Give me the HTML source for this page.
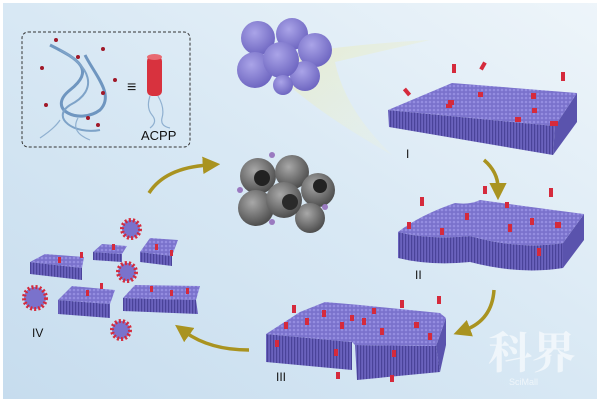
<!DOCTYPE html>
<html><head><meta charset="utf-8"><style>
html,body{margin:0;padding:0;width:600px;height:402px;overflow:hidden;background:#fff}
</style></head><body>
<svg width="600" height="402" viewBox="0 0 600 402" xmlns="http://www.w3.org/2000/svg">
<defs>
<linearGradient id="bg" x1="1" y1="0" x2="0" y2="1">
<stop offset="0" stop-color="#eef5fa"/><stop offset="0.5" stop-color="#d8e8f4"/><stop offset="1" stop-color="#c6dcee"/>
</linearGradient>
<pattern id="dots" width="4" height="4" patternUnits="userSpaceOnUse">
<rect width="4" height="4" fill="#7a72cc"/><circle cx="2" cy="2" r="1.3" fill="#948de0"/>
</pattern>
<pattern id="stripes" width="3" height="10" patternUnits="userSpaceOnUse">
<rect width="3" height="10" fill="#6a62bd"/><rect x="0" width="1.2" height="10" fill="#4a4399"/>
</pattern>
<linearGradient id="beam" x1="0" y1="0" x2="1" y2="1">
<stop offset="0" stop-color="#e6ebc8" stop-opacity="0.8"/><stop offset="1" stop-color="#eef3e0" stop-opacity="0.15"/>
</linearGradient>
<radialGradient id="ball" cx="0.4" cy="0.35" r="0.7">
<stop offset="0" stop-color="#aaa4e8"/><stop offset="1" stop-color="#6b63bf"/>
</radialGradient>
<radialGradient id="gball" cx="0.4" cy="0.35" r="0.7">
<stop offset="0" stop-color="#a8a8a8"/><stop offset="1" stop-color="#484848"/>
</radialGradient>
<marker id="ah" markerWidth="5" markerHeight="5" refX="1.5" refY="2.5" orient="auto" markerUnits="strokeWidth">
<path d="M0,0 L5,2.5 L0,5 Z" fill="#a99320"/>
</marker>
</defs>
<rect width="600" height="402" fill="url(#bg)"/>
<rect x="1.5" y="1.5" width="597" height="399" fill="none" stroke="#fff" stroke-width="3"/>

<!-- beam -->
<path d="M290,55 Q340,45 430,40 L335,62 Q345,110 392,155 Q330,120 292,88 Z" fill="url(#beam)"/>

<!-- inset -->
<rect x="22" y="32" width="168" height="115" rx="6" fill="none" stroke="#333" stroke-width="1" stroke-dasharray="3,2"/>
<path d="M50,45 C80,60 95,70 70,90 C45,110 80,125 100,110 C115,95 95,75 85,55" fill="none" stroke="#6f96c0" stroke-width="3"/>
<path d="M60,50 C90,65 100,90 70,105 C50,118 75,135 100,130" fill="none" stroke="#7ea3c8" stroke-width="2"/>
<path d="M40,138 Q55,128 60,120 M90,140 Q70,132 78,118" fill="none" stroke="#8fb0d0" stroke-width="1.2"/>
<g fill="#a01828">
<circle cx="56" cy="40" r="2"/><circle cx="103" cy="49" r="2"/><circle cx="78" cy="57" r="2"/><circle cx="42" cy="68" r="2"/>
<circle cx="115" cy="80" r="2"/><circle cx="103" cy="93" r="2"/><circle cx="46" cy="105" r="2"/><circle cx="98" cy="125" r="2"/><circle cx="88" cy="118" r="2"/>
</g>
<text x="127" y="92" font-family="Liberation Sans,sans-serif" font-size="16" font-weight="bold" fill="#222">≡</text>
<rect x="147" y="56" width="15" height="40" rx="5" fill="#d8323e"/>
<ellipse cx="154.5" cy="57" rx="7.5" ry="3" fill="#e86a72"/>
<path d="M150,96 Q146,108 152,115 Q158,122 150,128 M158,96 Q165,108 162,118 Q160,126 170,128" fill="none" stroke="#8fb0d0" stroke-width="1.2"/>
<text x="141" y="140" font-family="Liberation Sans,sans-serif" font-size="13" fill="#111">ACPP</text>

<!-- top purple cluster -->
<g>
<circle cx="258" cy="38" r="17" fill="url(#ball)"/>
<circle cx="292" cy="34" r="16" fill="url(#ball)"/>
<circle cx="315" cy="50" r="17" fill="url(#ball)"/>
<circle cx="255" cy="70" r="18" fill="url(#ball)"/>
<circle cx="305" cy="76" r="15" fill="url(#ball)"/>
<circle cx="281" cy="60" r="18" fill="url(#ball)"/>
<circle cx="283" cy="85" r="10" fill="url(#ball)"/>
</g>

<!-- grey cluster -->
<g>
<circle cx="258" cy="176" r="18" fill="url(#gball)"/>
<circle cx="292" cy="172" r="17" fill="url(#gball)"/>
<circle cx="318" cy="190" r="17" fill="url(#gball)"/>
<circle cx="256" cy="208" r="18" fill="url(#gball)"/>
<circle cx="310" cy="218" r="15" fill="url(#gball)"/>
<circle cx="284" cy="200" r="18" fill="url(#gball)"/>
<circle cx="262" cy="178" r="8" fill="#222"/><circle cx="290" cy="202" r="8" fill="#2a2a2a"/><circle cx="320" cy="186" r="7" fill="#222"/>
<circle cx="240" cy="190" r="3" fill="#9a7ac0"/><circle cx="272" cy="155" r="3" fill="#9a7ac0"/><circle cx="325" cy="207" r="3" fill="#9a7ac0"/><circle cx="272" cy="222" r="3" fill="#9a7ac0"/>
</g>

<!-- membrane I -->
<g>
<path d="M388,110 L555,126 L553,155 L389,127 Z" fill="url(#stripes)"/>
<path d="M555,126 L577,93 L577,122 L553,155 Z" fill="#5a53ad"/>
<path d="M388,110 L452,83 L577,93 L555,126 Z" fill="url(#dots)"/>
</g>
<g fill="#d52a3c">
<rect x="405" y="88" width="4" height="8" transform="rotate(-40 407 92)"/>
<rect x="452" y="64" width="4" height="9"/><rect x="481" y="62" width="4" height="8" transform="rotate(30 483 66)"/>
<rect x="561" y="72" width="4" height="9"/><rect x="448" y="100" width="6" height="5"/><rect x="478" y="92" width="5" height="5"/>
<rect x="531" y="93" width="5" height="6"/><rect x="515" y="117" width="6" height="5"/><rect x="550" y="121" width="8" height="5"/>
<rect x="446" y="104" width="6" height="4"/><rect x="532" y="108" width="5" height="5"/>
</g>
<text x="406" y="158" font-family="Liberation Sans,sans-serif" font-size="12" fill="#111">I</text>

<!-- membrane II -->
<g>
<path d="M398,232 Q430,240 470,236 Q520,250 563,243 L563,268 Q520,275 470,262 Q430,266 398,258 Z" fill="url(#stripes)"/>
<path d="M563,243 L584,214 L584,240 L563,268 Z" fill="#5a53ad"/>
<path d="M398,232 Q420,215 455,203 Q470,205 480,200 Q530,207 584,214 L563,243 Q520,250 470,236 Q430,240 398,232 Z" fill="url(#dots)"/>
</g>
<g fill="#d52a3c">
<rect x="420" y="197" width="4" height="9"/><rect x="483" y="186" width="4" height="8"/><rect x="549" y="188" width="4" height="9"/>
<rect x="407" y="222" width="4" height="7"/><rect x="440" y="228" width="4" height="7"/><rect x="465" y="213" width="4" height="7"/>
<rect x="508" y="224" width="4" height="8"/><rect x="530" y="218" width="4" height="7"/><rect x="555" y="222" width="6" height="6"/>
<rect x="537" y="248" width="4" height="8"/><rect x="505" y="202" width="4" height="6"/>
</g>
<text x="415" y="279" font-family="Liberation Sans,sans-serif" font-size="12" fill="#111">II</text>

<!-- membrane III -->
<g>
<path d="M266,334 L352,342 L352,370 L266,362 Z" fill="url(#stripes)"/>
<path d="M355,345 L436,346 L440,372 L357,380 Z" fill="url(#stripes)"/>
<path d="M436,346 L446,318 L446,345 L440,372 Z" fill="#5a53ad"/>
<path d="M266,334 L300,312 L325,302 L360,305 L440,313 L446,318 L436,346 L355,345 L352,342 Z" fill="url(#dots)"/>
</g>
<g fill="#d52a3c">
<rect x="292" y="305" width="4" height="8"/><rect x="322" y="310" width="4" height="7"/><rect x="400" y="300" width="4" height="8"/>
<rect x="437" y="296" width="4" height="8"/><rect x="284" y="322" width="4" height="7"/><rect x="305" y="318" width="4" height="7"/>
<rect x="340" y="322" width="4" height="7"/><rect x="362" y="318" width="4" height="7"/><rect x="380" y="328" width="4" height="7"/>
<rect x="414" y="322" width="5" height="6"/><rect x="428" y="333" width="4" height="7"/><rect x="275" y="340" width="4" height="7"/>
<rect x="334" y="349" width="4" height="7"/><rect x="392" y="350" width="4" height="7"/><rect x="336" y="372" width="4" height="7"/>
<rect x="390" y="375" width="4" height="7"/><rect x="350" y="315" width="4" height="6"/><rect x="372" y="308" width="4" height="6"/>
</g>
<text x="276" y="381" font-family="Liberation Sans,sans-serif" font-size="12" fill="#111">III</text>

<!-- IV pieces -->
<g>
<path d="M30,262 L82,268 L82,280 L30,274 Z" fill="url(#stripes)"/><path d="M30,262 L45,254 L84,257 L82,268 Z" fill="url(#dots)"/>
<path d="M93,252 L122,254 L122,262 L93,260 Z" fill="url(#stripes)"/><path d="M93,252 L102,244 L127,246 L122,254 Z" fill="url(#dots)"/>
<path d="M140,252 L172,256 L172,266 L140,262 Z" fill="url(#stripes)"/><path d="M140,252 L150,238 L178,240 L172,256 Z" fill="url(#dots)"/>
<path d="M58,300 L110,304 L110,318 L58,314 Z" fill="url(#stripes)"/><path d="M58,300 L72,286 L115,290 L110,304 Z" fill="url(#dots)"/>
<path d="M123,298 L196,300 L198,314 L123,311 Z" fill="url(#stripes)"/><path d="M123,298 L135,285 L200,286 L196,300 Z" fill="url(#dots)"/>
</g>
<g fill="#d52a3c">
<rect x="58" y="257" width="3" height="6"/><rect x="80" y="252" width="3" height="6"/><rect x="112" y="244" width="3" height="6"/>
<rect x="155" y="244" width="3" height="6"/><rect x="170" y="250" width="3" height="6"/><rect x="86" y="290" width="3" height="6"/>
<rect x="100" y="283" width="3" height="6"/><rect x="150" y="286" width="3" height="6"/><rect x="170" y="290" width="3" height="6"/><rect x="186" y="288" width="3" height="6"/>
</g>
<g>
<circle cx="35" cy="298" r="11" fill="#7a72cc" stroke="#d52a3c" stroke-width="4" stroke-dasharray="2,2"/>
<circle cx="131" cy="229" r="9" fill="#7a72cc" stroke="#d52a3c" stroke-width="4" stroke-dasharray="2,2"/>
<circle cx="127" cy="272" r="9" fill="#7a72cc" stroke="#d52a3c" stroke-width="4" stroke-dasharray="2,2"/>
<circle cx="121" cy="330" r="9" fill="#7a72cc" stroke="#d52a3c" stroke-width="4" stroke-dasharray="2,2"/>
</g>
<text x="32" y="337" font-family="Liberation Sans,sans-serif" font-size="12" fill="#111">IV</text>

<!-- arrows -->
<g fill="none" stroke="#a99320" stroke-width="3.5">
<path d="M484,160 Q498,172 498,188" marker-end="url(#ah)"/>
<path d="M494,290 Q492,320 465,330" marker-end="url(#ah)"/>
<path d="M249,350 Q210,350 185,332" marker-end="url(#ah)"/>
<path d="M149,193 Q165,168 208,165" marker-end="url(#ah)"/>
</g>

<!-- watermark -->
<text x="488" y="368" font-family="'Noto Serif CJK SC','Noto Sans CJK SC',serif" font-size="44" font-weight="bold" fill="#ffffff" fill-opacity="0.6">科界</text>
<text x="509" y="385" font-family="Liberation Sans,sans-serif" font-size="9" fill="#ffffff" fill-opacity="0.6">SciMall</text>
</svg>
</body></html>
